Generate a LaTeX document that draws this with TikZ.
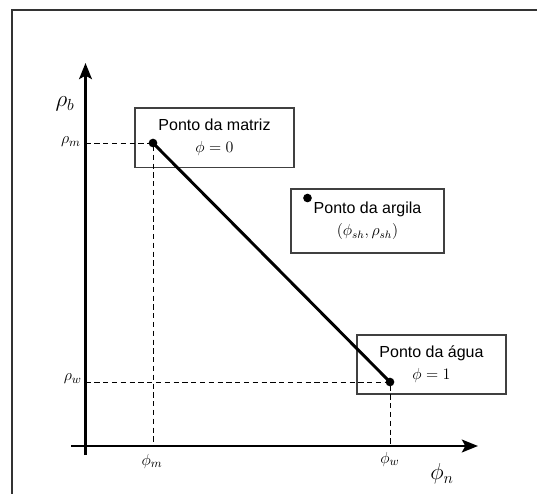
\documentclass[tikz,border=0pt]{standalone}
\usepackage{fontspec}
\setmainfont{Liberation Sans}
\usetikzlibrary{arrows.meta}
\begin{document}
\begin{tikzpicture}[x=0.75pt,y=-0.75pt,
  box/.style={draw=black!75, line width=0.8pt, rectangle, inner sep=0pt, align=center,
    font=\fontsize{12}{16.5}\selectfont},
  axis/.style={line width=2.2pt, -{Stealth[length=12pt,width=9.5pt,inset=2.5pt]}},
  guide/.style={line width=0.75pt, dash pattern=on 4pt off 2.6pt},
  dot/.style={circle, fill=black, inner sep=0pt, minimum size=6.5pt},
  smalllab/.style={font=\fontsize{12.5}{14}\selectfont, inner sep=0pt},
  biglab/.style={font=\fontsize{16.5}{19}\selectfont, inner sep=0pt}]
\useasboundingbox (0,0) rectangle (537,494);
\draw[line width=1.1pt, black!80] (12,494) -- (12,10) -- (537,10);

% boxes
\node[box, minimum width=159*0.75pt, minimum height=59.5*0.75pt] (mbox) at (214.5,137.75)
  {Ponto da matriz\\$\phi=0$};
\node[box, minimum width=153*0.75pt, minimum height=64*0.75pt] (sbox) at (367.5,221)
  {Ponto da argila\\$(\phi_{sh},\rho_{sh})$};
\node[box, minimum width=149*0.75pt, minimum height=59*0.75pt] (wbox) at (431.5,364.5)
  {Ponto da água\\$\phi=1$};

% coordinates
\coordinate (ytop) at (85.5,63);
\coordinate (ybot) at (85.5,455);
\coordinate (xleft) at (71,446);
\coordinate (xright) at (478,446);
\coordinate (ym) at (85.5,143);
\coordinate (yw) at (85.5,382);
\coordinate (xm) at (153,446);
\coordinate (xw) at (390,446);

% points
\node[dot] (M) at (153,143) {};
\node[dot] (W) at (390,382) {};
\node[dot] (S) at (307.5,198) {};

% guides
\draw[guide] (ym) -- (M.center) -- (xm);
\draw[guide] (yw) -- (W.center) -- (xw);

% axes
\draw[axis] (ybot) -- (ytop);
\draw[axis] (xleft) -- (xright);

% line
\draw[line width=2.2pt] (M.center) -- (W.center);

% labels
\node[biglab] (rb) at (65,104) {$\rho_b$};
\node[biglab] (pn) at (442,474) {$\phi_n$};
\node[smalllab, anchor=east] (rm) at (81,142) {$\rho_m$};
\node[smalllab, anchor=east] (rw) at (82,379) {$\rho_w$};
\node[smalllab] (pm) at (152,461) {$\phi_m$};
\node[smalllab] (pw) at (390,459) {$\phi_w$};
\end{tikzpicture}
\end{document}
